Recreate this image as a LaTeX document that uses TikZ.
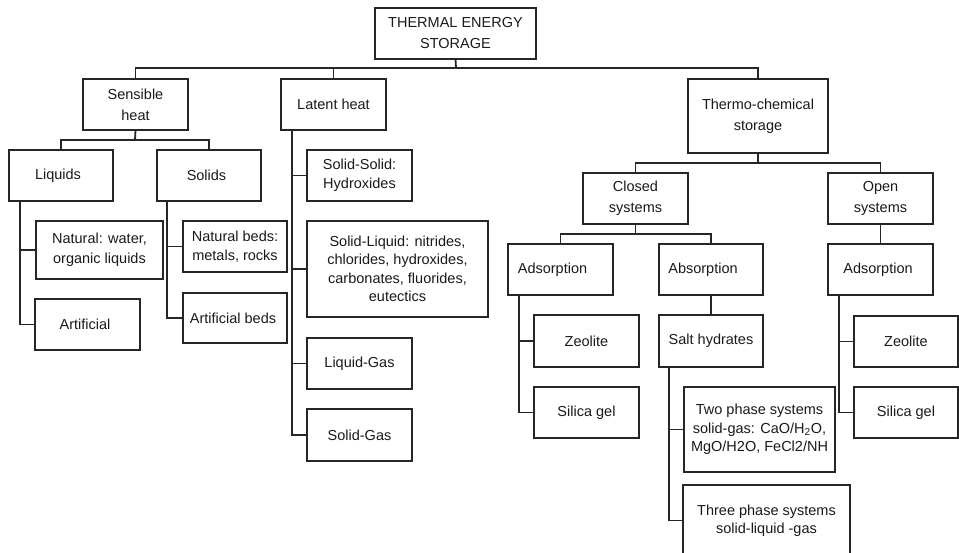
\documentclass[tikz,border=0pt]{standalone}
\usepackage{fontspec}
\setmainfont{Liberation Sans}
\definecolor{ln}{HTML}{262626}
\definecolor{txt}{HTML}{1A1A1A}
\begin{document}
\begin{tikzpicture}[x=1pt,y=-1pt,
  box/.style={draw=ln, line width=1.8pt, fill=white, inner sep=1pt, outer sep=0pt,
    anchor=north west, align=center, text=txt, font=\fontsize{14.5}{21}\selectfont},
  tight/.style={font=\fontsize{14.5}{18.5}\selectfont},
  conn/.style={draw=ln, line width=1.8pt}]
\useasboundingbox (0,0) rectangle (959,553);
\clip (0,0) rectangle (959,553);
% level 0
\node[box, minimum width=161pt, minimum height=51pt] (top) at (375,8) {THERMAL ENERGY\\STORAGE};
% level 1
\node[box, minimum width=105pt, minimum height=51pt] (sens) at (83,79) {Sensible\\heat};
\node[box, minimum width=105pt, minimum height=51pt] (lat) at (281,79) {Latent heat};
\node[box, minimum width=140pt, minimum height=74pt] (thermo) at (688,79) {Thermo-chemical\\storage};
% sensible
\node[box, minimum width=104pt, minimum height=51pt] (liq) at (9,150) {\hspace*{-6pt}Liquids};
\node[box, minimum width=104pt, minimum height=51pt] (sol) at (157,150) {\hspace*{-5pt}Solids};
\node[box, minimum width=127pt, minimum height=58pt, font=\fontsize{14.5}{20}\selectfont] (nat) at (36,221) {Natural: water,\\organic liquids};
\node[box, minimum width=105pt, minimum height=51pt] (art) at (35,299) {\hspace*{-5pt}Artificial};
\node[box, minimum width=104pt, minimum height=51pt, tight] (natb) at (183,221) {Natural beds:\\metals, rocks};
\node[box, minimum width=104pt, minimum height=50pt] (artb) at (183,293) {\hspace*{-4pt}Artificial beds};
% latent
\node[box, minimum width=105pt, minimum height=51pt, tight] (ss) at (307,150) {Solid-Solid:\\Hydroxides};
\node[box, minimum width=181pt, minimum height=96pt, tight] (sl) at (307,221) {Solid-Liquid: nitrides,\\chlorides, hydroxides,\\carbonates, fluorides,\\eutectics};
\node[box, minimum width=105pt, minimum height=51pt] (lg) at (307,338) {Liquid-Gas};
\node[box, minimum width=105pt, minimum height=52pt] (sg) at (307,409) {Solid-Gas};
% thermo-chemical
\node[box, minimum width=105pt, minimum height=51pt] (closed) at (583,173) {Closed\\systems};
\node[box, minimum width=105pt, minimum height=51pt] (open) at (828,173) {Open\\systems};
\node[box, minimum width=105pt, minimum height=51pt] (ads1) at (508,244) {\hspace*{-16pt}Adsorption};
\node[box, minimum width=104pt, minimum height=51pt] (abs) at (659,244) {\hspace*{-16pt}Absorption};
\node[box, minimum width=105pt, minimum height=51pt] (ads2) at (828,244) {\hspace*{-5pt}Adsorption};
\node[box, minimum width=105pt, minimum height=52pt] (zeo1) at (534,315) {Zeolite};
\node[box, minimum width=105pt, minimum height=51pt] (sil1) at (534,387) {Silica gel};
\node[box, minimum width=104pt, minimum height=52pt] (salt) at (659,315) {Salt hydrates};
\node[box, minimum width=151pt, minimum height=85pt, tight] (two) at (684,387) {Two phase systems\\solid-gas: CaO/H\textsubscript{2}O,\\MgO/H2O, FeCl2/NH};
\node[box, minimum width=167pt, minimum height=71pt, tight] (three) at (683,485) {Three phase systems\\solid-liquid -gas};
\node[box, minimum width=104pt, minimum height=51pt] (zeo2) at (854,316) {Zeolite};
\node[box, minimum width=104pt, minimum height=51pt] (sil2) at (854,387) {Silica gel};
% junctions
\coordinate (j0) at (456,68);
\coordinate (j1) at (135,140);
\coordinate (j2) at (758,163);
\coordinate (j3) at (635.5,234);
\coordinate (bliq) at (20,201);
\coordinate (bsol) at (167,201);
\coordinate (blat) at (292,130);
\coordinate (bads1) at (519,295);
\coordinate (bsalt) at (669,367);
\coordinate (bads2) at (839,295);
% connectors
\draw[conn] (top.south) -- (j0);
\draw[conn] (sens.north) |- (j0);
\draw[conn] (thermo.north) |- (j0);
\draw[conn] (lat.north) -- (lat.north |- j0);
\draw[conn] (sens.south) -- (j1);
\draw[conn] (liq.north) |- (j1);
\draw[conn] (sol.north) |- (j1);
\draw[conn] (bliq) |- (nat.west);
\draw[conn] (bliq) |- (art.west);
\draw[conn] (bsol) |- (natb.west);
\draw[conn] (bsol) |- (artb.west);
\draw[conn] (blat) |- (ss.west);
\draw[conn] (blat) |- (sl.west);
\draw[conn] (blat) |- (lg.west);
\draw[conn] (blat) |- (sg.west);
\draw[conn] (thermo.south) -- (j2);
\draw[conn] (closed.north) |- (j2);
\draw[conn] (open.north) |- (j2);
\draw[conn] (closed.south) -- (j3);
\draw[conn] (ads1.north) |- (j3);
\draw[conn] (abs.north) |- (j3);
\draw[conn] (open.south) -- (ads2.north);
\draw[conn] (abs.south) -- (salt.north);
\draw[conn] (bads1) |- (zeo1.west);
\draw[conn] (bads1) |- (sil1.west);
\draw[conn] (bsalt) |- (two.west);
\draw[conn] (bsalt) |- (three.west);
\draw[conn] (bads2) |- (zeo2.west);
\draw[conn] (bads2) |- (sil2.west);
\end{tikzpicture}
\end{document}
